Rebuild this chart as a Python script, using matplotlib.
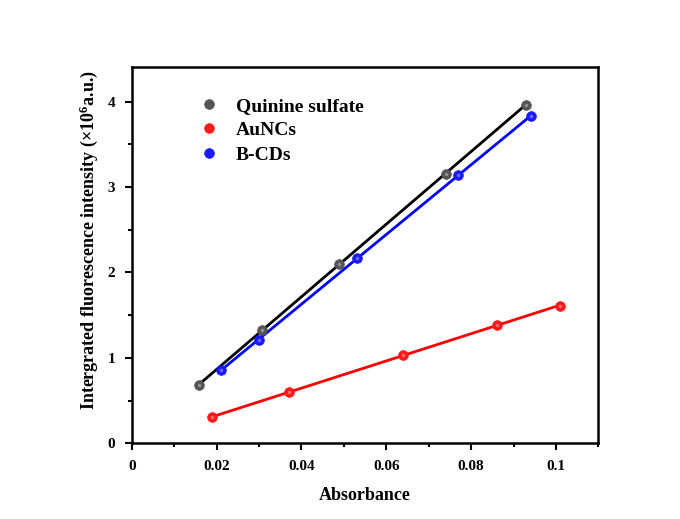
import matplotlib
matplotlib.use("Agg")
import matplotlib.pyplot as plt
import numpy as np
from matplotlib.ticker import MultipleLocator

plt.rcParams['font.family'] = ['Liberation Serif', 'DejaVu Serif']
plt.rcParams['font.weight'] = 'bold'
plt.rcParams['mathtext.fontset'] = 'custom'
plt.rcParams['mathtext.rm'] = 'Liberation Serif:bold'
plt.rcParams['mathtext.bf'] = 'Liberation Serif:bold'
plt.rcParams['mathtext.it'] = 'Liberation Serif:bold'

# data
quinine_x = [0.0159, 0.0307, 0.0488, 0.0740, 0.0929]
quinine_y = [0.68, 1.33, 2.10, 3.155, 3.96]
aunc_x = [0.0190, 0.0370, 0.0640, 0.0860, 0.1010]
aunc_y = [0.31, 0.60, 1.03, 1.39, 1.61]
bcd_x = [0.0211, 0.0299, 0.0530, 0.0770, 0.0941]
bcd_y = [0.855, 1.215, 2.167, 3.14, 3.83]

series = [
    ("Quinine sulfate", quinine_x, quinine_y, "#000000", "#555555"),
    ("AuNCs", aunc_x, aunc_y, "#ff0000", "#ff1a1a"),
    ("B-CDs", bcd_x, bcd_y, "#0000ff", "#1a1aff"),
]

fig = plt.figure(figsize=(6.8, 5.19), dpi=100)
ax = fig.add_axes([0.1937, 0.1455, 0.6863, 0.7248])

for name, xs, ys, lc, mc in series:
    xs = np.array(xs)
    ys = np.array(ys)
    k, b = np.polyfit(xs, ys, 1)
    xf = np.array([xs.min(), xs.max()])
    ax.plot(xf, k * xf + b, color=lc, lw=2.0, zorder=2)
    ax.plot(xs, ys, 'o', color=mc, markersize=7, markeredgecolor=mc,
            markeredgewidth=0.5, label=name, zorder=3)
    # small highlight to mimic the shaded balls
    ax.plot(xs, ys, 'o', color='white', alpha=0.35, markersize=2.5,
            markeredgewidth=0, zorder=4)

ax.set_xlim(0, 0.11)
ax.set_ylim(0, 4.4)
ax.xaxis.set_major_locator(MultipleLocator(0.02))
ax.xaxis.set_minor_locator(MultipleLocator(0.01))
ax.yaxis.set_major_locator(MultipleLocator(1))
ax.yaxis.set_minor_locator(MultipleLocator(0.5))
ax.set_xticks([0, 0.02, 0.04, 0.06, 0.08, 0.1])
ax.set_xticklabels(['0', '0.02', '0.04', '0.06', '0.08', '0.1'])

ax.tick_params(axis='both', which='major', direction='out', length=5, width=1.5,
               labelsize=11, pad=7)
ax.tick_params(axis='both', which='minor', direction='out', length=3, width=1.5)
for sp in ax.spines.values():
    sp.set_linewidth(1.8)

ax.set_xlabel("Absorbance", fontsize=13, fontweight='bold', labelpad=10)
ax.set_ylabel("Intergrated fluorescence intensity (×10$^{6}$a.u.)", fontsize=13,
              fontweight='bold')
ax.yaxis.set_label_coords(-0.068, 0.54)

ax.legend(loc='upper left', bbox_to_anchor=(0.107, 0.967), frameon=False,
          handlelength=1.0, handletextpad=0.9, labelspacing=0.35,
          prop={'weight': 'bold', 'size': 14})

fig.savefig("out.png", dpi=100)
